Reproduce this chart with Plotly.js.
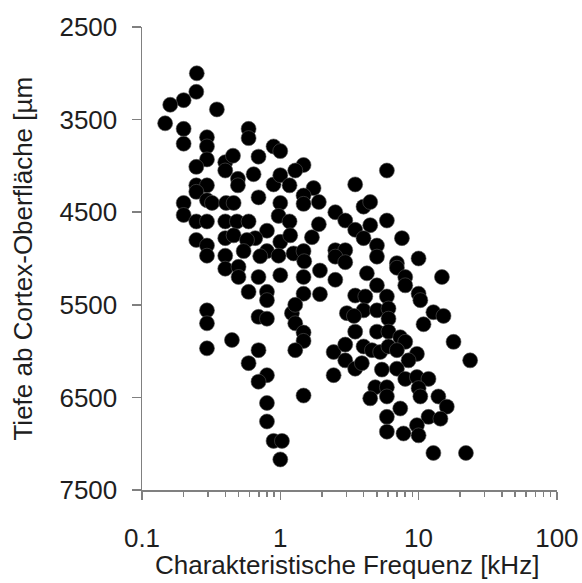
<!DOCTYPE html>
<html>
<head>
<meta charset="utf-8">
<script src="https://cdn.plot.ly/plotly-3.0.1.min.js"></script>
<style>html,body{margin:0;padding:0;background:#fff;}#chart{width:582px;height:583px;}</style>
</head>
<body>
<div id="chart"></div>
<script>
// Characteristic frequency (kHz)
const freqKHz = [
0.249,0.247,0.200,0.160,0.348,0.147,0.200,0.200,0.590,0.590,
0.295,0.295,0.295,0.247,0.400,0.455,0.400,0.696,0.894,1.00,
1.473,1.283,0.641,0.494,0.494,0.247,0.295,0.247,0.894,1.00,
1.167,1.740,1.473,0.696,0.200,0.295,0.321,0.406,0.460,1.00,
1.473,1.90,0.200,0.247,0.295,0.400,0.486,0.590,0.972,1.167,
0.801,0.659,0.247,0.400,0.460,0.574,1.00,1.18,1.694,1.90,
0.295,0.295,0.400,0.543,0.801,0.716,0.972,1.247,1.473,1.49,
0.400,0.499,0.499,0.696,1.00,1.473,1.936,0.590,0.801,0.801,
1.473,1.936,0.295,0.295,0.696,0.801,1.214,1.283,1.283,1.473,
1.473,0.447,0.295,0.696,0.590,1.283,0.801,0.696,1.473,0.801,
0.801,0.894,1.028,1.00,
5.90,3.48,2.50,4.0,4.47,2.95,3.48,4.47,5.90,4.0,
7.58,5.0,5.0,2.50,2.95,2.50,2.95,2.50,6.97,6.97,
10.0,14.75,4.23,5.0,8.01,8.01,3.48,4.12,5.90,10.0,
10.3,3.03,4.0,5.0,6.06,6.06,12.8,15.15,10.86,17.9,
23.6,3.41,3.48,5.0,6.06,7.37,8.01,2.43,2.95,4.0,
4.60,5.28,6.06,6.97,9.73,2.95,3.48,3.89,8.46,2.43,
5.43,6.97,8.01,9.73,11.8,4.86,5.90,10.0,10.3,4.47,
5.90,7.37,13.9,16.0,11.8,5.90,9.73,14.4,5.90,7.78,
10.0,12.8,22.0
];
// Depth below cortex surface (µm)
const depthUm = [
3000,3200,3290,3340,3390,3540,3600,3760,3600,3700,
3690,3790,3930,4010,3960,3890,4050,3900,3790,3840,
3990,4050,4090,4140,4210,4210,4210,4280,4200,4100,
4210,4240,4320,4340,4400,4370,4400,4400,4400,4400,
4410,4390,4530,4600,4600,4600,4600,4600,4540,4600,
4700,4780,4800,4780,4750,4800,4820,4750,4770,4630,
4860,4970,4970,4920,4920,4975,4970,4945,4920,5030,
5110,5090,5200,5200,5180,5200,5130,5360,5360,5450,
5380,5385,5560,5700,5630,5650,5590,5500,5700,5800,
5890,5880,5970,5990,6130,5990,6260,6330,6480,6560,
6760,6970,6970,7170,
4050,4200,4500,4440,4390,4590,4690,4640,4590,4780,
4780,4860,4980,4910,4910,4980,5040,5230,5050,5100,
5000,5200,5160,5290,5200,5290,5400,5410,5410,5380,
5450,5590,5560,5560,5540,5650,5580,5620,5710,5900,
6100,5620,5790,5790,5790,5850,5900,6010,5930,5950,
5990,6010,5950,5990,6030,6100,6190,6130,6100,6260,
6200,6190,6300,6280,6300,6390,6390,6400,6490,6510,
6490,6620,6490,6600,6710,6710,6800,6730,6870,6890,
6910,7100,7100
];
const xTickVals = [0.1, 1, 10, 100];
const xTickText = ['0.1', '1', '10', '100'];
const xMinorVals = [0.2,0.3,0.4,0.5,0.6,0.7,0.8,0.9,2,3,4,5,6,7,8,9,20,30,40,50,60,70,80,90];
const yTickVals = [2500, 3500, 4500, 5500, 6500, 7500];
const yTickText = ['2500', '3500', '4500', '5500', '6500', '7500'];
const xTitle = 'Charakteristische Frequenz [kHz]';
const yTitle = 'Tiefe ab Cortex-Oberfläche [µm';

const FONT = 'Liberation Sans, Arial, sans-serif';
const AX = '#808080';
const TXT = '#1e1e1e';

const trace = {
  type: 'scatter', mode: 'markers',
  x: freqKHz, y: depthUm,
  marker: {color: '#000', size: 15, line: {color: '#555', width: 0.6}},
  hoverinfo: 'x+y', showlegend: false
};

const layout = {
  width: 582, height: 583,
  margin: {l: 142, r: 25, t: 27, b: 93},
  paper_bgcolor: '#fff', plot_bgcolor: '#fff',
  font: {family: FONT, color: TXT, size: 26},
  xaxis: {
    type: 'log', range: [-1, 2.001],
    tickmode: 'array', tickvals: xTickVals, ticktext: xTickText,
    ticks: 'outside', ticklen: 8, tickwidth: 1.5, tickcolor: AX,
    showline: true, linecolor: AX, linewidth: 1.5,
    showgrid: false, zeroline: false,
    tickfont: {family: FONT, size: 26, color: TXT},
    ticklabelstandoff: 16,
    minor: {tickmode: 'array', tickvals: xMinorVals, ticks: 'outside', ticklen: 5, tickwidth: 1.5, tickcolor: AX, showgrid: false},
    fixedrange: true
  },
  yaxis: {
    range: [7500, 2500],
    tickmode: 'array', tickvals: yTickVals, ticktext: yTickText,
    ticks: 'outside', ticklen: 9, tickwidth: 1.5, tickcolor: AX,
    showline: true, linecolor: AX, linewidth: 1.5,
    showgrid: false, zeroline: false,
    tickfont: {family: FONT, size: 26, color: TXT},
    ticklabelstandoff: 9,
    fixedrange: true
  },
  annotations: [
    {text: xTitle, xref: 'paper', yref: 'paper', x: 0.495, y: -0.163, xanchor: 'center', yanchor: 'middle',
     showarrow: false, font: {family: FONT, size: 26, color: TXT}},
    {text: yTitle, xref: 'paper', yref: 'paper', x: -0.289, y: 0.5, xanchor: 'center', yanchor: 'middle',
     textangle: -90, showarrow: false, font: {family: FONT, size: 26, color: TXT}}
  ]
};

Plotly.newPlot('chart', [trace], layout, {displayModeBar: false, staticPlot: true});
</script>
</body>
</html>
